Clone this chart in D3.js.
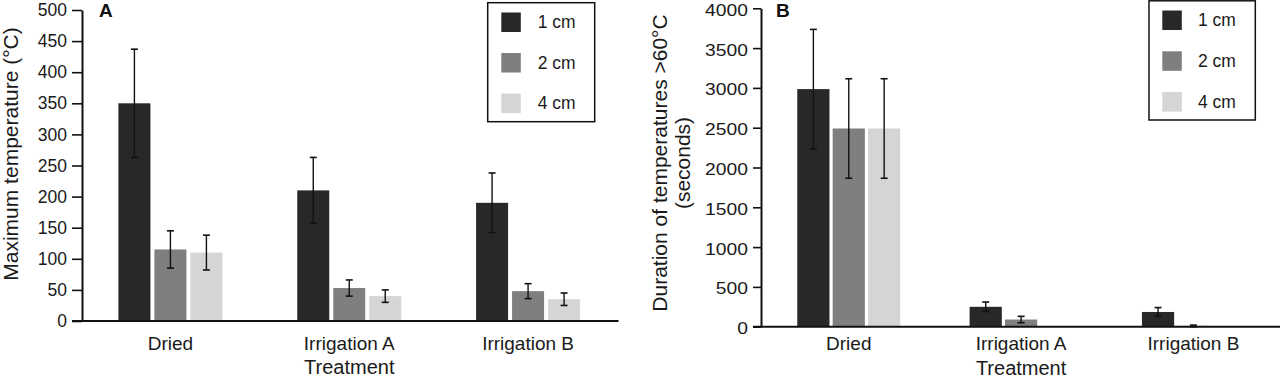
<!DOCTYPE html>
<html>
<head>
<meta charset="utf-8">
<script src="https://cdn.jsdelivr.net/npm/d3@7/dist/d3.min.js"></script>
<style>
  html, body { margin: 0; padding: 0; background: #fff; }
  svg { display: block; font-family: "Liberation Sans", Arial, Helvetica, sans-serif; }
</style>
</head>
<body>
<svg id="chart" width="1280" height="378"></svg>
<script>
// ---- Data ----
const categories = ["Dried", "Irrigation A", "Irrigation B"];
const seriesNames = ["1 cm", "2 cm", "4 cm"];
const seriesColors = ["#282828", "#7f7f7f", "#d5d5d5"];

// Panel A: Maximum temperature (°C)
const tempMean1cm = [350, 210, 190];
const tempErr1cm  = [87, 53, 48];
const tempMean2cm = [115, 53, 48];
const tempErr2cm  = [30, 13, 12];
const tempMean4cm = [110, 40, 35];
const tempErr4cm  = [28, 10, 10];
const tempTicks = [0, 50, 100, 150, 200, 250, 300, 350, 400, 450, 500];

// Panel B: Duration of temperatures >60°C (seconds)
const durMean1cm = [2985, 250, 185];
const durErr1cm  = [750, 60, 55];
const durMean2cm = [2490, 90, 10];
const durErr2cm  = [625, 40, 10];
const durMean4cm = [2490, 0, 0];
const durErr4cm  = [625, 0, 0];
const durTicks = [0, 500, 1000, 1500, 2000, 2500, 3000, 3500, 4000];

const svg = d3.select("#chart");

function drawPanel(cfg) {
  const g = svg.append("g");
  const x0 = d3.scaleBand().domain(categories).range(cfg.xRange).paddingInner(0).paddingOuter(0);
  const x1 = d3.scaleBand().domain(seriesNames).range([-cfg.groupHalf, cfg.groupHalf]).paddingInner(cfg.innerPad);
  const y = d3.scaleLinear().domain(cfg.yDomain).range(cfg.yRange);

  const rows = [];
  cfg.means.forEach((arr, si) => {
    arr.forEach((v, ci) => {
      rows.push({ cat: categories[ci], s: seriesNames[si], si, v, e: cfg.errs[si][ci] });
    });
  });

  // bars
  g.selectAll("rect.bar").data(rows).enter().append("rect")
    .attr("class", "bar")
    .attr("x", d => x0(d.cat) + x0.bandwidth() / 2 + x1(d.s))
    .attr("width", x1.bandwidth())
    .attr("y", d => y(d.v))
    .attr("height", d => y(0) - y(d.v))
    .attr("fill", d => seriesColors[d.si]);

  // error bars
  const eb = g.selectAll("g.err").data(rows.filter(d => d.e > 0)).enter().append("g")
    .attr("class", "err")
    .attr("transform", d => `translate(${x0(d.cat) + x0.bandwidth() / 2 + x1(d.s) + x1.bandwidth() / 2},0)`);
  eb.append("line").attr("x1", 0).attr("x2", 0)
    .attr("y1", d => y(d.v + d.e)).attr("y2", d => y(Math.max(0, d.v - d.e)))
    .attr("stroke", "#111").attr("stroke-width", 1.4);
  eb.append("line").attr("x1", -3.5).attr("x2", 3.5)
    .attr("y1", d => y(d.v + d.e)).attr("y2", d => y(d.v + d.e))
    .attr("stroke", "#111").attr("stroke-width", 1.6);
  eb.append("line").attr("x1", -3.5).attr("x2", 3.5)
    .attr("y1", d => y(Math.max(0, d.v - d.e))).attr("y2", d => y(Math.max(0, d.v - d.e)))
    .attr("stroke", "#111").attr("stroke-width", 1.6);

  // y axis
  const yAxis = d3.axisLeft(y).tickValues(cfg.ticks).tickFormat(d3.format("d"))
    .tickSize(cfg.tickLen).tickPadding(5).tickSizeOuter(0);
  const ya = g.append("g").attr("transform", `translate(${cfg.yAxisX},0)`).call(yAxis);
  ya.select(".domain").attr("stroke", "#111").attr("stroke-width", 2);
  ya.selectAll(".tick line").attr("stroke", "#111").attr("stroke-width", 1.6);
  const tt = ya.selectAll(".tick text").attr("font-size", cfg.tickFont).attr("fill", "#1a1a1a")
    .attr("font-family", "Liberation Sans, Arial, sans-serif");
  if (cfg.tickScaleX) {
    const xPos = -(cfg.tickLen + 5);
    tt.attr("x", xPos / cfg.tickScaleX).attr("dy", cfg.tickDy)
      .attr("transform", `scale(${cfg.tickScaleX},1)`);
  }

  // x axis category labels
  const xAxis = d3.axisBottom(x0).tickSize(0).tickPadding(13).tickSizeOuter(0);
  const xa = g.append("g").attr("transform", `translate(0,${y(0)})`).call(xAxis);
  xa.select(".domain").remove();
  xa.selectAll(".tick text").attr("font-size", 19).attr("fill", "#1a1a1a")
    .attr("font-family", "Liberation Sans, Arial, sans-serif")
    .attr("dy", "0.71em").attr("y", 343.7 - y(0) - 7);
  // x axis baseline
  g.append("line").attr("x1", cfg.yAxisX - cfg.tickLen).attr("x2", cfg.xRange[1] + 1)
    .attr("y1", y(0)).attr("y2", y(0)).attr("stroke", "#111").attr("stroke-width", 2);

  // x title
  g.append("text").attr("x", (x0("Irrigation A") + x0.bandwidth() / 2)).attr("y", cfg.xTitleY)
    .attr("text-anchor", "middle").attr("font-size", 20).attr("fill", "#1a1a1a").text("Treatment");

  // y title
  const yt = g.append("text").attr("transform", `translate(${cfg.yTitleX},${cfg.yTitleY}) rotate(-90)`)
    .attr("text-anchor", "middle").attr("font-size", 21).attr("fill", "#1a1a1a");
  cfg.yTitle.forEach((line, i) => {
    yt.append("tspan").attr("x", 0).attr("dy", i === 0 ? 0 : 23).text(line);
  });

  // panel label
  g.append("text").attr("x", cfg.labelX).attr("y", 17).attr("font-size", 19)
    .attr("font-weight", "bold").attr("fill", "#111").text(cfg.label);

  // legend
  const lg = g.append("g").attr("transform", `translate(${cfg.legX},${cfg.legY})`);
  lg.append("rect").attr("x", 0).attr("y", 0).attr("width", cfg.legW).attr("height", cfg.legH)
    .attr("fill", "#fff").attr("stroke", "#111").attr("stroke-width", 1.5);
  seriesNames.forEach((s, i) => {
    const cy = cfg.legRow0 + i * cfg.legStep;
    lg.append("rect").attr("x", cfg.swX).attr("y", cy - 9.5).attr("width", 19.5).attr("height", 19.5)
      .attr("fill", seriesColors[i]);
    lg.append("text").attr("x", cfg.txtX).attr("y", cy).attr("dy", "0.35em")
      .attr("font-size", 17.5).attr("fill", "#1a1a1a").text(s);
  });
}

drawPanel({
  means: [tempMean1cm, tempMean2cm, tempMean4cm],
  errs: [tempErr1cm, tempErr2cm, tempErr4cm],
  xRange: [81, 617.5], groupHalf: 52, innerPad: 0.111,
  yDomain: [0, 500], yRange: [321, 10], ticks: tempTicks,
  yAxisX: 82, tickLen: 10, tickFont: 17.5,
  xTitleY: 374, yTitleX: 18, yTitleY: 154,
  yTitle: ["Maximum temperature (°C)"],
  label: "A", labelX: 99,
  legX: 487.7, legY: 2.7, legW: 107, legH: 119, legRow0: 19.3, legStep: 40.5, swX: 13.6, txtX: 50
});

drawPanel({
  means: [durMean1cm, durMean2cm, durMean4cm],
  errs: [durErr1cm, durErr2cm, durErr4cm],
  xRange: [762.6, 1279.6], groupHalf: 51.5, innerPad: 0.09,
  yDomain: [0, 4000], yRange: [326.7, 8.3], ticks: durTicks,
  yAxisX: 761, tickLen: 8, tickFont: 16.5, tickScaleX: 1.17, tickDy: "0.42em",
  xTitleY: 375, yTitleX: 667, yTitleY: 163,
  yTitle: ["Duration of temperatures >60°C", "(seconds)"],
  label: "B", labelX: 776,
  legX: 1149, legY: 0.8, legW: 106.3, legH: 119.2, legRow0: 19.2, legStep: 40.8, swX: 13.3, txtX: 49
});
</script>
</body>
</html>
